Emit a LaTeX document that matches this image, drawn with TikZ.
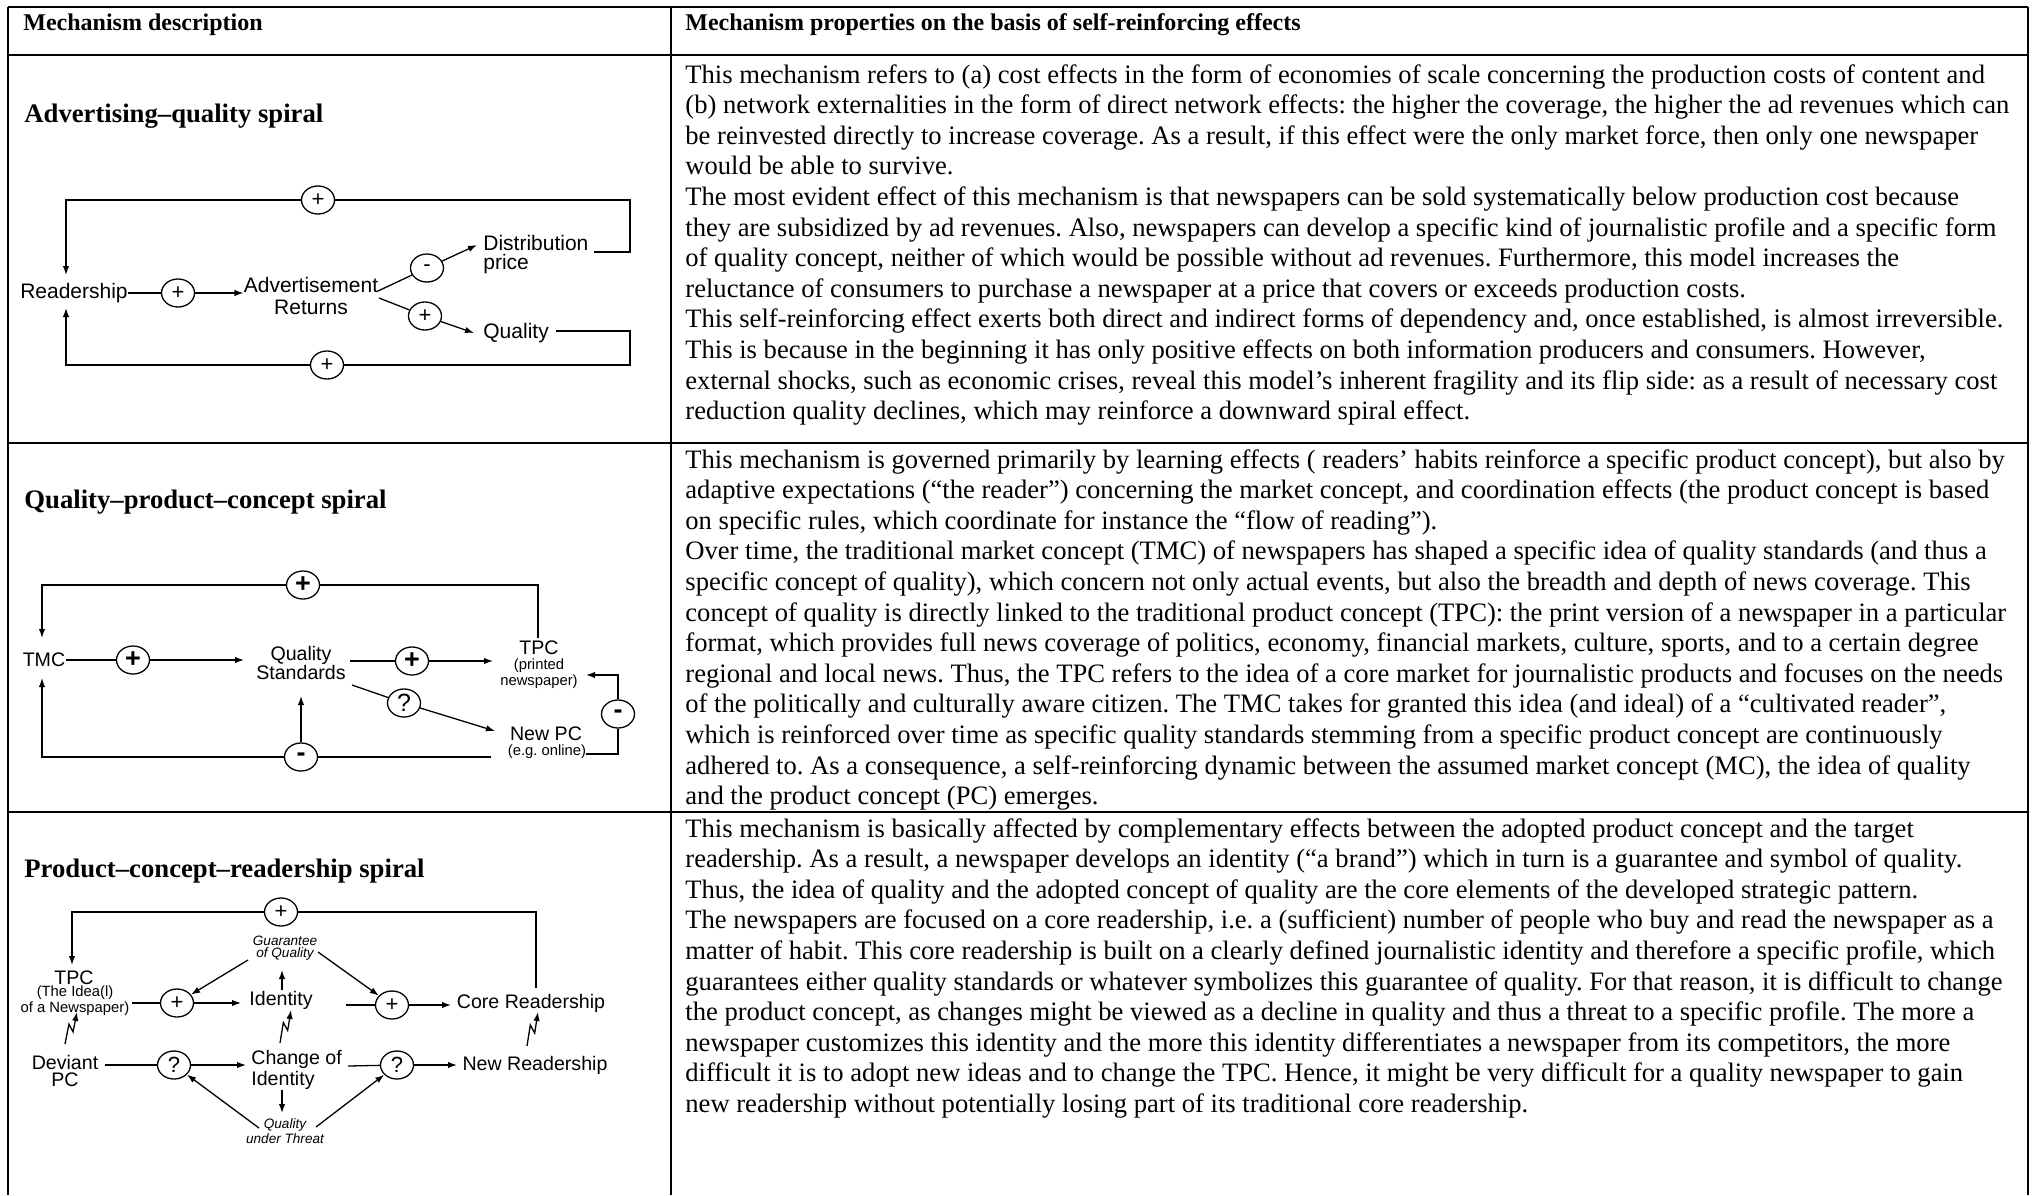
\documentclass[tikz,border=0pt]{standalone}
\usepackage{fontspec}
\setmainfont{Liberation Serif}
\setsansfont{Liberation Sans}
\usetikzlibrary{arrows.meta,shapes.geometric,calc}
\frenchspacing

\tikzset{
  rule/.style={line width=1.25pt},
  body/.style={anchor=base west, inner sep=0pt, font=\fontsize{13.3}{15}\selectfont},
  headtext/.style={anchor=base west, inner sep=0pt, font=\bfseries\fontsize{12}{14}\selectfont},
  rowtitle/.style={anchor=base west, inner sep=0pt, font=\bfseries\fontsize{13.35}{15}\selectfont},
  wire/.style={line width=0.65pt},
  arr/.style={wire, -{Latex[length=4.5pt,width=3.2pt]}},
  sgn/.style={ellipse, draw, line width=0.65pt, minimum width=16.5pt, minimum height=14pt,
    inner sep=0pt, fill=white, font=\sffamily\fontsize{11}{11}\selectfont},
  sgnbold/.style={sgn, font=\sffamily\bfseries\fontsize{13.5}{13.5}\selectfont},
  labA/.style={inner sep=0pt, align=center, font=\sffamily\fontsize{10.5}{11}\selectfont},
  labB/.style={inner sep=0pt, align=center, font=\sffamily\fontsize{9.8}{8.5}\selectfont},
  tiny/.style={inner sep=0pt, align=center, font=\sffamily\fontsize{7.4}{6.5}\selectfont},
  tinyit/.style={inner sep=0pt, align=center, font=\sffamily\itshape\fontsize{6.8}{6.2}\selectfont},
  zig/.style={to path={-- ($(\tikztostart)!0.62!(\tikztotarget)+(-3.5,0)$)
      -- ($(\tikztostart)!0.38!(\tikztotarget)+(3.5,0)$) -- (\tikztotarget)}},
}

\begin{document}
\begin{tikzpicture}[x=0.5pt,y=-0.5pt]
\useasboundingbox (0,0) rectangle (2036,1195);
\fill[white] (0,0) rectangle (2036,1195);

% ---------- table grid ----------
\draw[rule] (8,7) -- (2028,7);
\draw[rule] (8,55) -- (2028,55);
\draw[rule] (8,443) -- (2028,443);
\draw[rule] (8,812) -- (2028,812);
\draw[rule] (8,7) -- (8,1195);
\draw[rule] (671,7) -- (671,1195);
\draw[rule] (2028,7) -- (2028,1195);

% ---------- header ----------
\node[headtext] (hL) at (23,30) {Mechanism description};
\node[headtext] (hR) at (685,30) {Mechanism properties on the basis of self-reinforcing effects};

% ---------- row titles ----------
\node[rowtitle] (t1) at (24,122) {Advertising–quality spiral};
\node[rowtitle] (t2) at (24,508) {Quality–product–concept spiral};
\node[rowtitle] (t3) at (24,877) {Product–concept–readership spiral};

% ---------- row 1 text ----------
\node[body] (a1) at (685,83) {This mechanism refers to (a) cost effects in the form of economies of scale concerning the production costs of content and};
\node[body] (a2) at (685,113) {(b) network externalities in the form of direct network effects: the higher the coverage, the higher the ad revenues which can};
\node[body] (a3) at (685,144.2) {be reinvested directly to increase coverage. As a result, if this effect were the only market force, then only one newspaper};
\node[body] (a4) at (685,174.8) {would be able to survive.};
\node[body] (a5) at (685,205.4) {The most evident effect of this mechanism is that newspapers can be sold systematically below production cost because};
\node[body] (a6) at (685,236) {they are subsidized by ad revenues. Also, newspapers can develop a specific kind of journalistic profile and a specific form};
\node[body] (a7) at (685,266.6) {of quality concept, neither of which would be possible without ad revenues. Furthermore, this model increases the};
\node[body] (a8) at (685,297.2) {reluctance of consumers to purchase a newspaper at a price that covers or exceeds production costs.};
\node[body] (a9) at (685,327.8) {This self-reinforcing effect exerts both direct and indirect forms of dependency and, once established, is almost irreversible.};
\node[body] (a10) at (685,358.4) {This is because in the beginning it has only positive effects on both information producers and consumers. However,};
\node[body] (a11) at (685,389) {external shocks, such as economic crises, reveal this model’s inherent fragility and its flip side: as a result of necessary cost};
\node[body] (a12) at (685,419.6) {reduction quality declines, which may reinforce a downward spiral effect.};

% ---------- row 2 text ----------
\node[body] (b1) at (685,468) {This mechanism is governed primarily by learning effects ( readers’ habits reinforce a specific product concept), but also by};
\node[body] (b2) at (685,498.6) {adaptive expectations (“the reader”) concerning the market concept, and coordination effects (the product concept is based};
\node[body] (b3) at (685,529.2) {on specific rules, which coordinate for instance the “flow of reading”).};
\node[body] (b4) at (685,559.8) {Over time, the traditional market concept (TMC) of newspapers has shaped a specific idea of quality standards (and thus a};
\node[body] (b5) at (685,590.4) {specific concept of quality), which concern not only actual events, but also the breadth and depth of news coverage. This};
\node[body] (b6) at (685,621) {concept of quality is directly linked to the traditional product concept (TPC): the print version of a newspaper in a particular};
\node[body] (b7) at (685,651.6) {format, which provides full news coverage of politics, economy, financial markets, culture, sports, and to a certain degree};
\node[body] (b8) at (685,682.2) {regional and local news. Thus, the TPC refers to the idea of a core market for journalistic products and focuses on the needs};
\node[body] (b9) at (685,712.8) {of the politically and culturally aware citizen. The TMC takes for granted this idea (and ideal) of a “cultivated reader”,};
\node[body] (b10) at (685,743.4) {which is reinforced over time as specific quality standards stemming from a specific product concept are continuously};
\node[body] (b11) at (685,774) {adhered to. As a consequence, a self-reinforcing dynamic between the assumed market concept (MC), the idea of quality};
\node[body] (b12) at (685,804.6) {and the product concept (PC) emerges.};

% ---------- row 3 text ----------
\node[body] (c1) at (685,837) {This mechanism is basically affected by complementary effects between the adopted product concept and the target};
\node[body] (c2) at (685,867.6) {readership. As a result, a newspaper develops an identity (“a brand”) which in turn is a guarantee and symbol of quality.};
\node[body] (c3) at (685,898.2) {Thus, the idea of quality and the adopted concept of quality are the core elements of the developed strategic pattern.};
\node[body] (c4) at (685,928.8) {The newspapers are focused on a core readership, i.e. a (sufficient) number of people who buy and read the newspaper as a};
\node[body] (c5) at (685,959.4) {matter of habit. This core readership is built on a clearly defined journalistic identity and therefore a specific profile, which};
\node[body] (c6) at (685,990) {guarantees either quality standards or whatever symbolizes this guarantee of quality. For that reason, it is difficult to change};
\node[body] (c7) at (685,1020.6) {the product concept, as changes might be viewed as a decline in quality and thus a threat to a specific profile. The more a};
\node[body] (c8) at (685,1051.2) {newspaper customizes this identity and the more this identity differentiates a newspaper from its competitors, the more};
\node[body] (c9) at (685,1081.8) {difficult it is to adopt new ideas and to change the TPC. Hence, it might be very difficult for a quality newspaper to gain};
\node[body] (c10) at (685,1112.4) {new readership without potentially losing part of its traditional core readership.};

% ========== diagram 1: advertising-quality spiral ==========
\node[labA] (rd) at (74,293) {Readership};
\node[labA] (adv) at (311,296) {Advertisement\\Returns};
\node[labA, anchor=west, align=left, font=\sffamily\fontsize{10.5}{9.5}\selectfont] (dist) at (483,255) {Distribution\\price};
\node[labA, anchor=west] (qual) at (483,333) {Quality};
\node[sgn] (p1) at (318,200) {+};
\node[sgn] (p2) at (178,293) {+};
\node[sgn] (p3) at (427,268) {-};
\node[sgn] (p4) at (425,316) {+};
\node[sgn] (p5) at (327,365) {+};
\coordinate (d1a) at (594,252);
\coordinate (d1b) at (630,252);
\coordinate (d1c) at (630,200);
\coordinate (d1d) at (66,200);
\coordinate (d1e) at (66,275);
\coordinate (q1a) at (556,331);
\coordinate (q1b) at (630,331);
\coordinate (q1c) at (630,365);
\coordinate (q1d) at (66,365);
\coordinate (q1e) at (66,308);
\coordinate (av1) at (378,291);
\coordinate (av2) at (379,298);
\coordinate (dt1) at (477,245);
\coordinate (qt1) at (474,333);
\draw[arr] (d1a) -- (d1b) -- (d1c) -- (p1) -- (d1d) -- (d1e);
\draw[arr] (q1a) -- (q1b) -- (q1c) -- (p5) -- (q1d) -- (q1e);
\draw[wire] (rd) -- (p2);
\draw[arr] (p2) -- (adv.west |- p2);
\draw[arr] (av1) -- (p3) -- (dt1);
\draw[arr] (av2) -- (p4) -- (qt1);

% ========== diagram 2: quality-product-concept spiral ==========
\node[labB] (tmc) at (44,660) {TMC};
\node[labB, font=\sffamily\fontsize{9.8}{9.5}\selectfont] (qs) at (301,663) {Quality\\Standards};
\node[labB] (tpc) at (539,648) {TPC};
\node[tiny] (tpcs) at (539,674) {(printed\\newspaper)};
\node[labB] (npc) at (546,734) {New PC};
\node[tiny] (npcs) at (547,752) {(e.g. online)};
\node[sgnbold] (m1) at (303,585) {+};
\node[sgnbold] (m2) at (133,660) {+};
\node[sgnbold] (m3) at (412,661) {+};
\node[sgn, font=\sffamily\fontsize{12.5}{12.5}\selectfont] (m4) at (404,703) {?};
\node[sgnbold] (m5) at (618,714) {-};
\node[sgnbold] (m6) at (301,757) {-};
\coordinate (e1) at (538,638);
\coordinate (e2) at (538,585);
\coordinate (e3) at (42,585);
\coordinate (e4) at (42,638);
\coordinate (e5) at (244,660);
\coordinate (e6) at (350,661);
\coordinate (e7) at (493,661);
\coordinate (e8) at (352,685);
\coordinate (e9) at (495,731);
\coordinate (f1) at (586,754);
\coordinate (f2) at (618,754);
\coordinate (f3) at (618,675);
\coordinate (f4) at (586,675);
\coordinate (f5) at (491,757);
\coordinate (f6) at (42,757);
\coordinate (f7) at (42,678);
\coordinate (f8) at (301,696);
\draw[arr] (e1) -- (e2) -- (m1) -- (e3) -- (e4);
\draw[wire] (tmc) -- (m2);
\draw[arr] (m2) -- (e5);
\draw[wire] (e6) -- (m3);
\draw[arr] (m3) -- (e7);
\draw[arr] (e8) -- (m4) -- (e9);
\draw[arr] (f1) -- (f2) -- (m5) -- (f3) -- (f4);
\draw[arr] (f5) -- (m6) -- (f6) -- (f7);
\draw[arr] (m6) -- (f8);

% ========== diagram 3: product-concept-readership spiral ==========
\node[labB] (tpc3) at (74,978) {TPC};
\node[tiny] (tpc3s) at (75,1001) {(The Idea(l)\\of a Newspaper)};
\node[labB] (ident) at (281,1000) {Identity};
\node[tinyit] (guar) at (285,948) {Guarantee\\of Quality};
\node[labB] (core) at (531,1003) {Core Readership};
\node[labB] (dev) at (65,1071) {Deviant\\PC};
\node[labB, anchor=west, align=left] (chg) at (251,1070) {Change of\\Identity};
\node[labB] (newr) at (535,1065) {New Readership};
\node[tinyit] (qut) at (285,1131) {Quality\\under Threat};
\node[sgn] (n1) at (281,912) {+};
\node[sgn] (n2) at (177,1003) {+};
\node[sgn] (n3) at (392,1005) {+};
\node[sgn] (n4) at (174,1065) {?};
\node[sgn] (n5) at (397,1065) {?};
\coordinate (g1) at (536,988);
\coordinate (g2) at (536,912);
\coordinate (g3) at (72,912);
\coordinate (g4) at (72,965);
\coordinate (g5) at (132,1003);
\coordinate (g6) at (241,1003);
\coordinate (g7) at (282,990);
\coordinate (g8) at (282,970);
\coordinate (g9) at (248,960);
\coordinate (h1) at (318,952);
\coordinate (h2) at (346,1005);
\coordinate (h3) at (451,1005);
\coordinate (h4) at (105,1065);
\coordinate (h5) at (246,1065);
\coordinate (h6) at (348,1066);
\coordinate (h7) at (457,1065);
\coordinate (h8) at (282,1090);
\coordinate (h9) at (282,1113);
\coordinate (k1) at (259,1128);
\coordinate (k2) at (316,1127);
\coordinate (z1a) at (65,1044);
\coordinate (z1b) at (77,1012);
\coordinate (z2a) at (280,1043);
\coordinate (z2b) at (291,1010);
\coordinate (z3a) at (527,1046);
\coordinate (z3b) at (538,1012);
\draw[arr] (g1) -- (g2) -- (n1) -- (g3) -- (g4);
\draw[wire] (g5) -- (n2);
\draw[arr] (n2) -- (g6);
\draw[arr] (g7) -- (g8);
\draw[arr] (g9) -- (n2);
\draw[arr] (h1) -- (n3);
\draw[wire] (h2) -- (n3);
\draw[arr] (n3) -- (h3);
\draw[wire] (h4) -- (n4);
\draw[arr] (n4) -- (h5);
\draw[wire] (h6) -- (n5);
\draw[arr] (n5) -- (h7);
\draw[arr] (h8) -- (h9);
\draw[arr] (k1) -- (n4);
\draw[arr] (k2) -- (n5);
\draw[arr] (z1a) to[zig] (z1b);
\draw[arr] (z2a) to[zig] (z2b);
\draw[arr] (z3a) to[zig] (z3b);
\end{tikzpicture}
\end{document}
